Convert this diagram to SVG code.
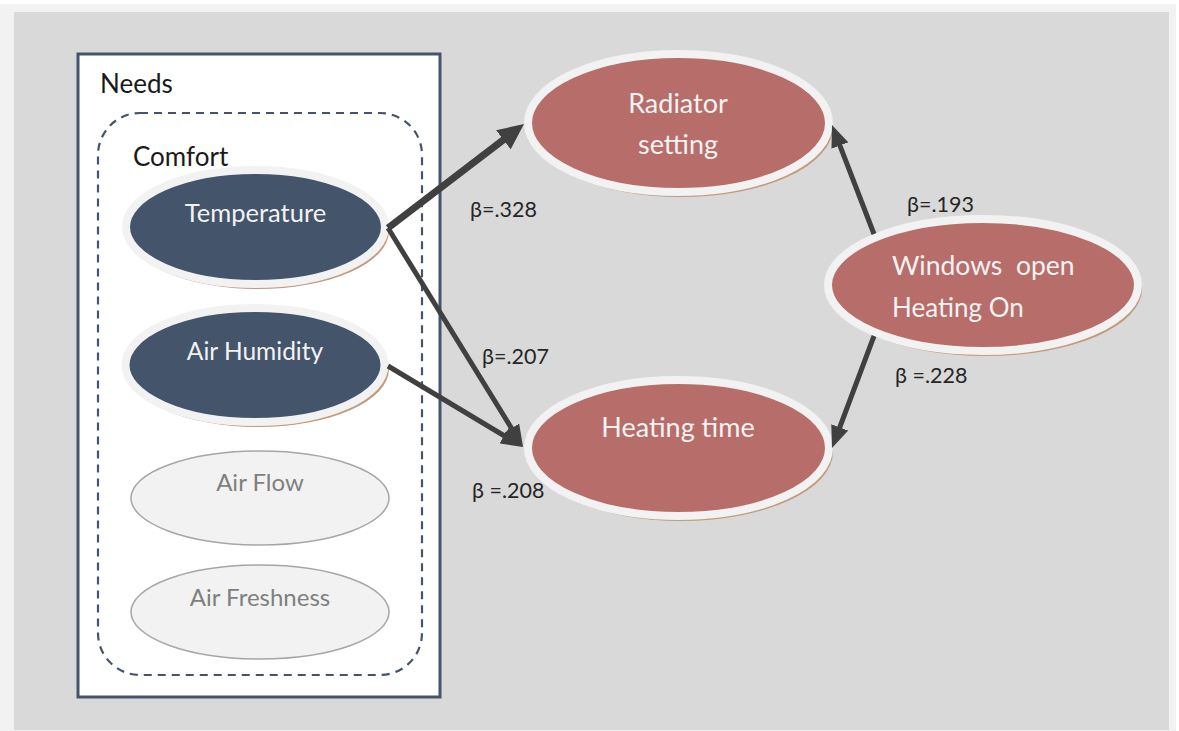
<svg xmlns="http://www.w3.org/2000/svg" width="1179" height="731" viewBox="0 0 1179 731">
<style>
text{font-family:Lato,"Open Sans","Liberation Sans",sans-serif}
.lbl{font-size:21.5px;fill:#262626}
.hdr{font-size:26px;fill:#1a1a1a}
.sh{fill:#c29a7e}
.dk{fill:#44546a;stroke:#f2f2f2;stroke-width:8}
.rd{fill:#b76e6a;stroke:#f2f2f2;stroke-width:8}
.lt{fill:#f2f2f2;stroke:#a6a6a6;stroke-width:1.5}
.wt{fill:#f2f2f2;text-anchor:middle}
.gt{fill:#7f7f7f;text-anchor:middle;font-size:24px}
.cn{stroke:#404040;fill:none}
</style>
<defs>
<marker id="ah" markerUnits="userSpaceOnUse" markerWidth="22" markerHeight="18" viewBox="0 0 22 18" refX="12" refY="9" orient="auto">
<path d="M0,0 L22,9 L0,18 z" fill="#404040"/>
</marker>
<marker id="ahb" markerUnits="userSpaceOnUse" markerWidth="26" markerHeight="24" viewBox="0 0 26 24" refX="14" refY="12" orient="auto">
<path d="M0,0 L26,12 L0,24 z" fill="#404040"/>
</marker>
</defs>
<rect x="0" y="0" width="1179" height="731" fill="#ffffff"/>
<rect x="0" y="4" width="1176" height="727" fill="#f2f2f2"/>
<rect x="14" y="12" width="1155" height="718" fill="#d9d9d9"/>

<g id="needs">
<rect x="78" y="54" width="362" height="643" fill="#ffffff" stroke="#44546a" stroke-width="3"/>
<text class="hdr" x="100" y="93">Needs</text>
</g>
<g id="comfort">
<rect x="98" y="113" width="324" height="562" rx="42" ry="42" fill="none" stroke="#44546a" stroke-width="2.2" stroke-dasharray="8,6"/>
<text class="hdr" x="133" y="166">Comfort</text>
</g>

<g id="temperature">
<ellipse class="sh" cx="258" cy="231" rx="131" ry="58"/>
<ellipse class="dk" cx="255.5" cy="227" rx="129.5" ry="57"/>
<text class="wt" x="255.5" y="222" font-size="25.5">Temperature</text>
</g>
<g id="air-humidity">
<ellipse class="sh" cx="258" cy="369" rx="131" ry="58"/>
<ellipse class="dk" cx="255" cy="365" rx="129.5" ry="57"/>
<text class="wt" x="255" y="360" font-size="24.5">Air Humidity</text>
</g>
<g id="air-flow">
<ellipse class="lt" cx="260" cy="498" rx="129" ry="47"/>
<text class="gt" x="260" y="491">Air Flow</text>
</g>
<g id="air-freshness">
<ellipse class="lt" cx="260" cy="612" rx="129" ry="47"/>
<text class="gt" x="260" y="606">Air Freshness</text>
</g>

<g id="radiator-setting">
<ellipse class="sh" cx="681" cy="127" rx="152" ry="70"/>
<ellipse class="rd" cx="678.5" cy="123" rx="150.5" ry="69"/>
<text class="wt" x="678" y="113" font-size="27">Radiator</text>
<text class="wt" x="678" y="154" font-size="27">setting</text>
</g>
<g id="heating-time">
<ellipse class="sh" cx="681" cy="452" rx="152" ry="69"/>
<ellipse class="rd" cx="678.5" cy="448" rx="150.5" ry="68"/>
<text class="wt" x="678" y="437" font-size="27">Heating time</text>
</g>
<g id="windows-open">
<ellipse class="sh" cx="986" cy="289" rx="156" ry="67"/>
<ellipse class="rd" cx="983" cy="285" rx="155" ry="66"/>
<text x="892" y="275" font-size="26.5" fill="#f2f2f2" xml:space="preserve">Windows  open</text>
<text x="892" y="317" font-size="26" fill="#f2f2f2">Heating On</text>
</g>

<g id="connectors">
<line class="cn" x1="388" y1="228" x2="514.5" y2="131.3" stroke-width="7" marker-end="url(#ahb)"/>
<line class="cn" x1="388" y1="228" x2="517.8" y2="438.5" stroke-width="5" marker-end="url(#ah)"/>
<line class="cn" x1="388" y1="366" x2="514.4" y2="441.9" stroke-width="5" marker-end="url(#ah)"/>
<line class="cn" x1="874" y1="234" x2="835.6" y2="134.3" stroke-width="5" marker-end="url(#ah)"/>
<line class="cn" x1="874" y1="336" x2="835.5" y2="438.6" stroke-width="5" marker-end="url(#ah)"/>
<text class="lbl" x="470" y="217">β=.328</text>
<text class="lbl" x="482" y="364">β=.207</text>
<text class="lbl" x="472" y="498">β =.208</text>
<text class="lbl" x="907" y="212">β=.193</text>
<text class="lbl" x="895" y="383">β =.228</text>
</g>
</svg>
